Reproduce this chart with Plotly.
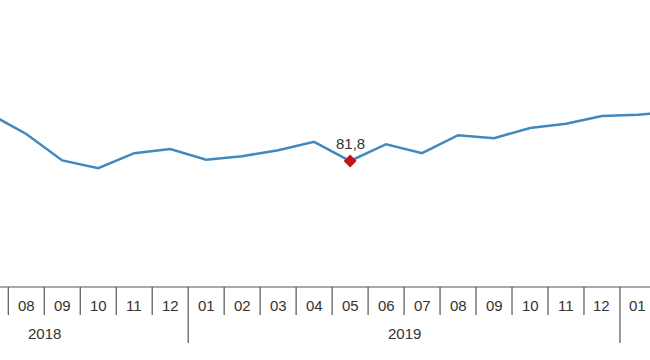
import plotly.graph_objects as go

# Data (index 0 = 2018-07)
months = ["07", "08", "09", "10", "11", "12",
          "01", "02", "03", "04", "05", "06", "07", "08", "09", "10", "11", "12",
          "01", "02"]
years = ["2018"] * 6 + ["2019"] * 12 + ["2020"] * 2
values = [89.6, 86.3, 81.9, 80.6, 83.1, 83.8,
          82.0, 82.6, 83.6, 85.0, 81.8, 84.6, 83.1, 86.1, 85.6, 87.3, 88.0, 89.3,
          89.5, 90.0]
highlight_index = 10
highlight_label = "81,8"
year_labels = ["2018", "2019"]
year_label_pos = [1.5, 11.5]

W, H = 650, 360
axis_px = 287
FONT = "Liberation Sans, Arial, sans-serif"
TXT = "#333333"
LINE = "#4189bd"

x = list(range(len(values)))

fig = go.Figure()
fig.add_trace(go.Scatter(x=x, y=values, mode="lines",
                         line=dict(color=LINE, width=2.5), hoverinfo="skip"))
fig.add_trace(go.Scatter(x=[x[highlight_index]], y=[values[highlight_index]], mode="markers",
                         marker=dict(symbol="diamond", size=10, color="#c0141c"),
                         hoverinfo="skip"))

annotations = [dict(x=x[highlight_index], y=values[highlight_index], xref="x", yref="y",
                    text=highlight_label, showarrow=False, yanchor="middle", yshift=17.5,
                    font=dict(family=FONT, size=15, color=TXT))]

def py(p):
    return (H - p) / H

shapes = [dict(type="line", xref="paper", yref="paper", x0=0, x1=1,
               y0=py(axis_px), y1=py(axis_px), line=dict(color="#555555", width=1.2))]

for i, m in enumerate(months):
    annotations.append(dict(x=i, y=py(305.5), xref="x", yref="paper", text=m,
                            showarrow=False, yanchor="middle",
                            font=dict(family=FONT, size=15, color=TXT)))
    if i + 1 < len(months):
        yearbreak = years[i] != years[i + 1]
        shapes.append(dict(type="line", xref="x", yref="paper", x0=i + 0.5, x1=i + 0.5,
                           y0=py(axis_px), y1=py(343 if yearbreak else 315),
                           line=dict(color="#555555", width=1.2)))

for lab, pos in zip(year_labels, year_label_pos):
    annotations.append(dict(x=pos, y=py(333), xref="x", yref="paper", text=lab,
                            showarrow=False, yanchor="middle",
                            font=dict(family=FONT, size=15, color=TXT)))

fig.update_layout(
    width=W, height=H, margin=dict(l=0, r=0, t=0, b=0),
    paper_bgcolor="white", plot_bgcolor="white", showlegend=False,
    xaxis=dict(range=[0.2696, 18.335], visible=False, fixedrange=True),
    yaxis=dict(range=[60.8, 108.633], domain=[py(axis_px), 1], visible=False,
               fixedrange=True),
    annotations=annotations, shapes=shapes,
)

fig.write_html("out.html", config={"displayModeBar": False},
               post_script="document.body.style.margin='0';document.body.style.overflow='hidden';")
